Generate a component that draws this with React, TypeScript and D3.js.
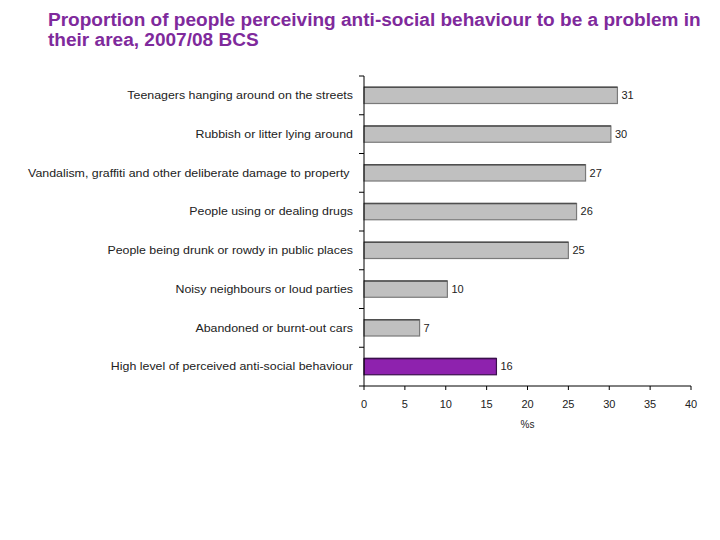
import { useEffect, useRef } from "react";
import * as d3 from "d3";

const categories = [
  "Teenagers hanging around on the streets",
  "Rubbish or litter lying around",
  "Vandalism, graffiti and other deliberate damage to property ",
  "People using or dealing drugs",
  "People being drunk or rowdy in public places",
  "Noisy neighbours or loud parties",
  "Abandoned or burnt-out cars",
  "High level of perceived anti-social behaviour",
];
const values = [31, 30.2, 27.1, 26, 25, 10.2, 6.8, 16.2];
const valueLabels = ["31", "30", "27", "26", "25", "10", "7", "16"];
const xTicks = [0, 5, 10, 15, 20, 25, 30, 35, 40];
const titleLines = [
  "Proportion of people perceiving anti-social behaviour to be a problem in",
  "their area, 2007/08 BCS",
];

export default function App() {
  const svgRef = useRef<SVGSVGElement>(null);

  useEffect(() => {
    if (!svgRef.current) return;
    const svg = d3.select(svgRef.current);
    svg.selectAll("*").remove();

    const left = 364;
    const right = 691;
    const top = 76;
    const bottom = 386;
    const font = "Arial, 'Liberation Sans', sans-serif";

    // the original text is a little wider than Arial
    const widen = (sel: any, stretch: number) => {
      const len = sel.node()!.getComputedTextLength();
      sel.attr("textLength", len * stretch).attr("lengthAdjust", "spacingAndGlyphs");
    };

    svg.append("rect").attr("width", 720).attr("height", 540).attr("fill", "#fff");

    // title
    titleLines.forEach((line, i) => {
      const t = svg
        .append("text")
        .attr("x", 48)
        .attr("y", 26 + i * 20)
        .attr("fill", "#7f2a9c")
        .attr("font-family", font)
        .attr("font-weight", "bold")
        .attr("font-size", 17.5)
        .text(line);
      widen(t, 1.088);
    });

    const x = d3.scaleLinear().domain([0, 40]).range([left, right]);
    const y = d3
      .scaleBand<number>()
      .domain(d3.range(categories.length))
      .range([top, bottom])
      .paddingInner(0.58)
      .paddingOuter(0.29);

    const g = svg.append("g");

    // bars
    values.forEach((v, i) => {
      const hi = i === values.length - 1;
      const by = y(i)!;
      const bh = y.bandwidth();
      g.append("rect")
        .attr("x", x(0))
        .attr("y", by)
        .attr("width", x(v) - x(0))
        .attr("height", bh)
        .attr("fill", hi ? "#8e22ae" : "#c0c0c0")
        .attr("stroke", hi ? "#3a0f4c" : "#7a7a7a")
        .attr("stroke-width", 1.2);
      g.append("line")
        .attr("x1", x(0))
        .attr("x2", x(v))
        .attr("y1", by)
        .attr("y2", by)
        .attr("stroke", hi ? "#3a0f4c" : "#4f4f4f")
        .attr("stroke-width", 1.6);
      g.append("text")
        .attr("x", x(v) + 4)
        .attr("y", by + bh / 2)
        .attr("dy", "0.35em")
        .attr("font-family", font)
        .attr("font-size", 11)
        .attr("fill", "#222")
        .text(valueLabels[i]);
      const lab = g
        .append("text")
        .attr("x", 353)
        .attr("y", by + bh / 2)
        .attr("dy", "0.35em")
        .attr("text-anchor", "end")
        .attr("font-family", font)
        .attr("font-size", 11)
        .attr("fill", "#222")
        .attr("xml:space", "preserve")
        .text(categories[i]);
      widen(lab, 1.125);
    });

    // y axis
    g.append("line")
      .attr("x1", left).attr("x2", left)
      .attr("y1", top).attr("y2", bottom)
      .attr("stroke", "#000");
    d3.range(categories.length + 1).forEach((i) => {
      const ty = top + (i * (bottom - top)) / categories.length;
      g.append("line")
        .attr("x1", left - 5).attr("x2", left)
        .attr("y1", ty).attr("y2", ty)
        .attr("stroke", "#000");
    });

    // x axis
    g.append("line")
      .attr("x1", left).attr("x2", right)
      .attr("y1", bottom).attr("y2", bottom)
      .attr("stroke", "#000");
    xTicks.forEach((t) => {
      g.append("line")
        .attr("x1", x(t)).attr("x2", x(t))
        .attr("y1", bottom).attr("y2", bottom + 4)
        .attr("stroke", "#000");
      g.append("text")
        .attr("x", x(t))
        .attr("y", bottom + 22)
        .attr("text-anchor", "middle")
        .attr("font-family", font)
        .attr("font-size", 11)
        .attr("fill", "#222")
        .text(t);
    });
    g.append("text")
      .attr("x", (left + right) / 2)
      .attr("y", bottom + 42)
      .attr("text-anchor", "middle")
      .attr("font-family", font)
      .attr("font-size", 10)
      .attr("fill", "#222")
      .text("%s");
  }, []);

  return (
    <svg
      ref={svgRef}
      width={720}
      height={540}
      viewBox="0 0 720 540"
      style={{ position: "absolute", left: 0, top: 0 }}
    ></svg>
  );
}
